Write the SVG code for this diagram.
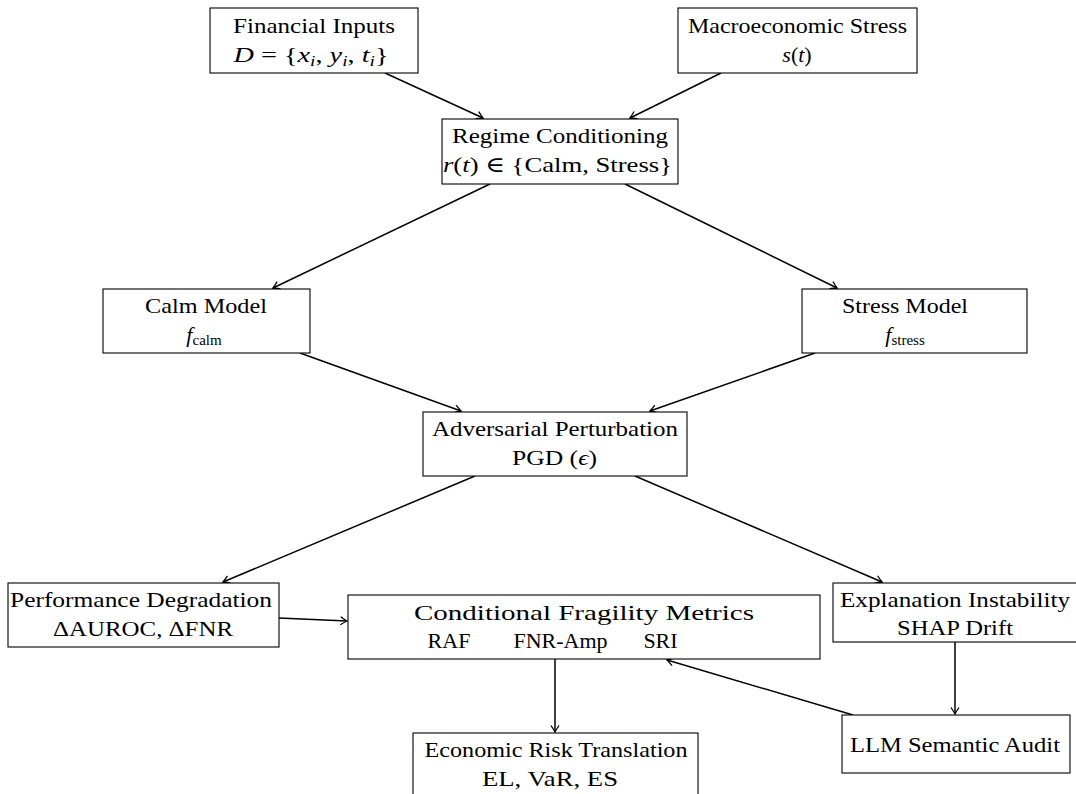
<svg xmlns="http://www.w3.org/2000/svg" width="1076" height="794" viewBox="0 0 1076 794">
<style>
.box{fill:#fff;stroke:#000;stroke-width:1.1}
.t{font-family:"Liberation Serif","DejaVu Serif",serif;font-size:22px;text-anchor:middle;fill:#000}
.i{font-style:italic}
.c{stroke:#000;stroke-width:1.5;fill:none;marker-end:url(#arr)}
</style>
<defs>
<marker id="arr" viewBox="-8 -5 10 10" refX="0" refY="0" markerWidth="10" markerHeight="10" markerUnits="userSpaceOnUse" orient="auto">
<path d="M-6.5,-4 Q-2,-1 0,0 Q-2,1 -6.5,4" fill="none" stroke="#000" stroke-width="1.3"/>
</marker>
</defs>
<rect width="1076" height="794" fill="#fff"/>
<g id="connectors">
<line class="c" x1="385" y1="73" x2="483" y2="118"/>
<line class="c" x1="721" y1="73" x2="630" y2="118"/>
<line class="c" x1="490" y1="184" x2="273" y2="288"/>
<line class="c" x1="625" y1="184" x2="837" y2="288"/>
<line class="c" x1="300" y1="353" x2="461" y2="411"/>
<line class="c" x1="815" y1="353" x2="650" y2="411"/>
<line class="c" x1="475" y1="476" x2="223" y2="582"/>
<line class="c" x1="635" y1="476" x2="882" y2="582"/>
<line class="c" x1="279" y1="618" x2="347" y2="621"/>
<line class="c" x1="555" y1="659" x2="555" y2="732"/>
<line class="c" x1="955" y1="642" x2="955" y2="714"/>
<line class="c" x1="853" y1="715" x2="667" y2="660"/>
</g>
<g id="n-financial">
<rect class="box" x="210" y="8" width="208" height="65"/>
<text class="t" x="314" y="33" textLength="162" lengthAdjust="spacingAndGlyphs">Financial Inputs</text>
<text class="t" x="311" y="62" textLength="155" lengthAdjust="spacingAndGlyphs"><tspan class="i">D</tspan> = {<tspan class="i">x</tspan><tspan class="i" font-size="15" dy="4">i</tspan><tspan dy="-4">, </tspan><tspan class="i">y</tspan><tspan class="i" font-size="15" dy="4">i</tspan><tspan dy="-4">, </tspan><tspan class="i">t</tspan><tspan class="i" font-size="15" dy="4">i</tspan><tspan dy="-4">}</tspan></text>
</g>
<g id="n-macro">
<rect class="box" x="678" y="8" width="239" height="65"/>
<text class="t" x="797.5" y="33" textLength="219" lengthAdjust="spacingAndGlyphs">Macroeconomic Stress</text>
<text class="t" x="797" y="62"><tspan class="i">s</tspan>(<tspan class="i">t</tspan>)</text>
</g>
<g id="n-regime">
<rect class="box" x="442" y="119" width="236" height="65"/>
<text class="t" x="560" y="143" textLength="216" lengthAdjust="spacingAndGlyphs">Regime Conditioning</text>
<text class="t" x="557.5" y="172" textLength="229" lengthAdjust="spacingAndGlyphs"><tspan class="i">r</tspan>(<tspan class="i">t</tspan>) ∈ {Calm, Stress}</text>
</g>
<g id="n-calm">
<rect class="box" x="103" y="289" width="207" height="64"/>
<text class="t" x="206" y="313" textLength="122" lengthAdjust="spacingAndGlyphs">Calm Model</text>
<text class="t" x="204" y="342"><tspan class="i">f</tspan><tspan font-size="15" dy="3">calm</tspan></text>
</g>
<g id="n-stress">
<rect class="box" x="802" y="289" width="225" height="64"/>
<text class="t" x="905" y="313" textLength="126" lengthAdjust="spacingAndGlyphs">Stress Model</text>
<text class="t" x="905" y="342"><tspan class="i">f</tspan><tspan font-size="15" dy="3">stress</tspan></text>
</g>
<g id="n-adversarial">
<rect class="box" x="423" y="412" width="264" height="64"/>
<text class="t" x="555" y="436" textLength="246" lengthAdjust="spacingAndGlyphs">Adversarial Perturbation</text>
<text class="t" x="554.5" y="465" textLength="85" lengthAdjust="spacingAndGlyphs">PGD (<tspan class="i">ϵ</tspan>)</text>
</g>
<g id="n-performance">
<rect class="box" x="8" y="583" width="271" height="64"/>
<text class="t" x="141" y="607" textLength="262" lengthAdjust="spacingAndGlyphs">Performance Degradation</text>
<text class="t" x="143" y="636" textLength="180" lengthAdjust="spacingAndGlyphs">ΔAUROC, ΔFNR</text>
</g>
<g id="n-fragility">
<rect class="box" x="348" y="595" width="472" height="64"/>
<text class="t" x="584" y="620" textLength="340" lengthAdjust="spacingAndGlyphs">Conditional Fragility Metrics</text>
<text class="t" y="648"><tspan x="449">RAF</tspan><tspan x="560.5">FNR-Amp</tspan><tspan x="660.5">SRI</tspan></text>
</g>
<g id="n-explanation">
<rect class="box" x="833" y="583" width="245" height="59"/>
<text class="t" x="955" y="607" textLength="230" lengthAdjust="spacingAndGlyphs">Explanation Instability</text>
<text class="t" x="955" y="635" textLength="116" lengthAdjust="spacingAndGlyphs">SHAP Drift</text>
</g>
<g id="n-economic">
<rect class="box" x="413" y="733" width="285" height="70"/>
<text class="t" x="556" y="757" textLength="263" lengthAdjust="spacingAndGlyphs">Economic Risk Translation</text>
<text class="t" x="550" y="786" textLength="136" lengthAdjust="spacingAndGlyphs">EL, VaR, ES</text>
</g>
<g id="n-llm">
<rect class="box" x="842" y="715" width="228" height="58"/>
<text class="t" x="955" y="752" textLength="210" lengthAdjust="spacingAndGlyphs">LLM Semantic Audit</text>
</g>
</svg>
